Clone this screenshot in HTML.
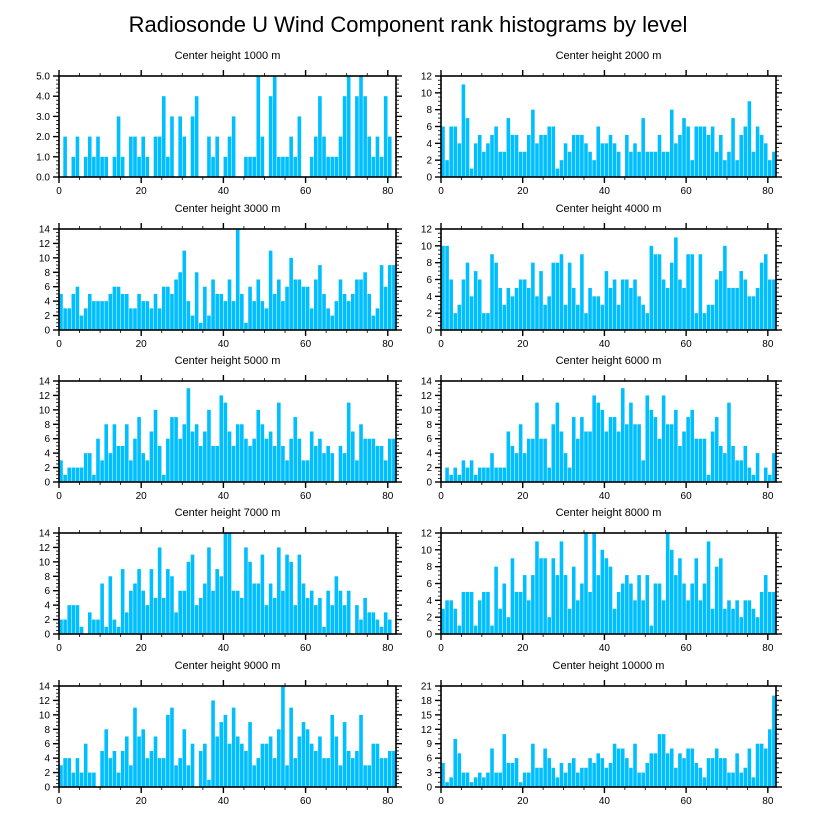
<!DOCTYPE html>
<html><head><meta charset="utf-8">
<style>
html,body{margin:0;padding:0;background:#fff;}
svg{display:block;font-family:"Liberation Sans",sans-serif;}
</style></head>
<body>
<svg id="chart" width="818" height="824" viewBox="0 0 818 824" xmlns="http://www.w3.org/2000/svg">
<rect x="0" y="0" width="818" height="824" fill="#fff"/>
<text x="408" y="32" text-anchor="middle" font-size="22" fill="#000">Radiosonde U Wind Component rank histograms by level</text>
</svg>
<script>
const titles = ["Center height 1000 m","Center height 2000 m","Center height 3000 m","Center height 4000 m","Center height 5000 m","Center height 6000 m","Center height 7000 m","Center height 8000 m","Center height 9000 m","Center height 10000 m"];
const yMaxes = [5,12,14,12,14,14,14,12,14,21];
const yStepLabels = [1,2,2,2,2,2,2,2,2,3];
const xTicks = [0,20,40,60,80];
const counts1000 = [0,2,0,1,2,0,1,2,1,2,1,1,0,1,3,1,0,2,2,1,2,1,0,2,2,4,1,3,0,3,2,0,3,4,0,0,2,1,2,0,1,2,3,0,0,1,1,1,5,2,0,4,5,1,1,1,2,1,3,0,0,1,2,4,2,1,1,1,2,4,5,0,4,5,4,2,1,2,1,4,2,0];
const counts2000 = [6,2,6,6,4,11,7,1,4,5,3,4,5,6,3,3,7,5,5,3,3,5,8,4,5,5,6,6,1,2,4,3,5,5,5,4,3,2,6,4,4,5,4,3,0,5,3,4,3,7,3,3,3,5,3,3,8,4,5,7,6,2,6,6,6,5,6,3,5,2,3,7,2,5,6,9,3,6,5,4,2,3];
const counts3000 = [5,3,3,5,6,2,3,5,4,4,4,4,5,6,6,5,5,3,3,5,4,4,3,5,3,6,6,5,7,8,11,4,2,8,1,6,2,7,5,5,4,7,4,14,5,1,6,4,7,4,3,11,5,7,4,6,10,7,7,6,6,3,7,9,5,3,2,4,7,5,4,5,7,7,8,5,2,3,9,6,9,9];
const counts4000 = [10,10,6,2,3,6,8,4,7,6,2,2,9,8,5,3,5,4,5,6,6,5,8,4,7,3,4,8,8,9,3,8,5,3,9,2,5,4,4,3,7,5,6,3,6,6,5,6,4,3,2,10,9,9,6,5,8,11,6,5,9,9,2,9,2,3,3,6,7,10,5,5,5,7,6,4,4,5,8,9,6,6];
const counts5000 = [3,1,2,2,2,2,4,4,1,6,3,8,4,8,5,5,8,3,6,9,4,3,7,10,5,1,6,9,9,6,8,13,7,8,5,7,10,5,5,12,11,7,5,8,8,6,5,6,10,8,6,7,5,11,5,3,6,9,6,3,3,7,5,6,4,5,4,0,5,4,11,7,3,8,6,6,6,5,5,3,6,6];
const counts6000 = [0,2,1,2,1,3,2,3,1,2,2,2,4,2,2,2,7,5,4,8,4,6,6,11,6,6,2,8,11,7,4,2,9,6,9,7,7,12,11,10,7,9,9,7,13,8,11,8,8,3,12,10,9,6,12,8,8,10,5,7,9,10,6,6,6,1,7,9,5,4,11,5,3,3,5,2,1,4,0,2,1,4];
const counts7000 = [2,2,4,4,4,1,0,3,2,2,7,1,8,2,1,9,3,6,7,9,6,4,9,5,12,5,9,8,3,6,6,10,11,4,5,7,12,6,9,8,14,14,6,6,5,12,10,7,7,11,4,7,5,12,6,11,10,4,11,7,5,6,4,5,1,6,4,8,6,4,6,0,4,2,5,3,3,2,1,3,2,0];
const counts8000 = [3,4,4,3,1,5,5,5,1,4,5,5,1,8,3,6,2,9,5,5,7,4,7,11,9,9,2,9,7,11,7,3,8,4,6,12,5,12,7,10,9,8,3,5,6,7,6,4,7,4,7,1,6,6,4,12,10,7,9,6,4,6,9,4,6,11,3,8,9,3,4,3,4,2,4,4,3,2,5,7,5,5];
const counts9000 = [3,4,4,2,4,2,6,2,2,0,5,8,4,5,2,5,7,3,11,7,8,4,5,7,4,4,10,11,3,4,8,3,6,0,5,6,1,12,7,9,10,6,11,7,6,5,9,3,4,6,6,7,4,8,14,3,11,4,7,9,8,6,5,7,4,4,10,7,3,9,5,4,5,10,3,3,6,6,4,4,5,5];
const counts10000 = [5,1,2,10,7,3,3,1,2,3,2,3,8,3,3,11,5,5,6,1,3,3,9,4,4,8,6,4,2,5,3,5,6,3,4,4,6,5,7,6,4,5,9,8,8,6,4,9,3,3,5,7,7,11,11,7,8,4,7,6,8,8,5,4,2,6,6,8,6,6,3,3,7,3,4,8,2,9,9,8,12,19];
const allCounts = [counts1000,counts2000,counts3000,counts4000,counts5000,counts6000,counts7000,counts8000,counts9000,counts10000];

const NS = "http://www.w3.org/2000/svg";
const svg = document.getElementById("chart");
const colLeft = [59, 441], colRight = [396, 776];
const rowTop = [76, 229, 381, 533, 686], panelH = 101;
const xDomainMax = 82;

function mk(tag, attrs, parent) {
  const e = document.createElementNS(NS, tag);
  for (const k in attrs) e.setAttribute(k, attrs[k]);
  parent.appendChild(e);
  return e;
}

allCounts.forEach((data, p) => {
  const col = p % 2, row = Math.floor(p / 2);
  const L = colLeft[col], R = colRight[col], T = rowTop[row], B = T + panelH;
  const yMax = yMaxes[p];
  const xs = v => L + (R - L) * v / xDomainMax;
  const ys = v => B - panelH * v / yMax;
  const g = mk("g", {}, svg);
  
  

  const t = mk("text", {x: (L + R) / 2, y: T - 17, "text-anchor": "middle", "font-size": "11"}, g);
  t.textContent = titles[p];
  
  

  data.forEach((v, i) => {
    if (v <= 0) return;
    const r = mk("rect", {x: xs(i) + 0.2, y: ys(v), width: Math.max(0.5, xs(i + 1) - xs(i) - 0.5), height: B - ys(v), fill: "#00bfff"}, g);
    
    
  });

  const fr = mk("rect", {x: L, y: T, width: R - L, height: panelH, fill: "none", stroke: "#000", "stroke-width": "1.6"}, g);
  
  

  for (let v = 0; v <= 80; v += 5) {
    const major = v % 20 === 0;
    const len = major ? 6 : 3;
    const x = xs(v);
    const a = mk("line", {x1: x, x2: x, y1: B, y2: B + len, stroke: "#000", "stroke-width": major ? 1.4 : 0.8}, g);
    
    
    const b = mk("line", {x1: x, x2: x, y1: T, y2: T - len, stroke: "#000", "stroke-width": major ? 1.4 : 0.8}, g);
    
    
  }
  xTicks.forEach(v => {
    const tl = mk("text", {x: xs(v), y: B + 17, "text-anchor": "middle", "font-size": "10"}, g);
    tl.textContent = v;
    
    
  });

  const step = yStepLabels[p];
  const minor = step / (p === 0 ? 5 : (step === 3 ? 3 : 4));
  for (let k = 0; k * minor <= yMax + 1e-9; k++) {
    const v = k * minor;
    const major = Math.abs(v / step - Math.round(v / step)) < 1e-6;
    const len = major ? 6 : 3;
    const y = ys(v);
    const a = mk("line", {x1: L, x2: L - len, y1: y, y2: y, stroke: "#000", "stroke-width": major ? 1.4 : 0.8}, g);
    
    
    const b = mk("line", {x1: R, x2: R + len, y1: y, y2: y, stroke: "#000", "stroke-width": major ? 1.4 : 0.8}, g);
    
    
    if (major) {
      const tl = mk("text", {x: L - 9, y: y + 3.5, "text-anchor": "end", "font-size": "10"}, g);
      tl.textContent = p === 0 ? v.toFixed(1) : Math.round(v);
      
      
    }
  }
});
</script>
</body></html>
